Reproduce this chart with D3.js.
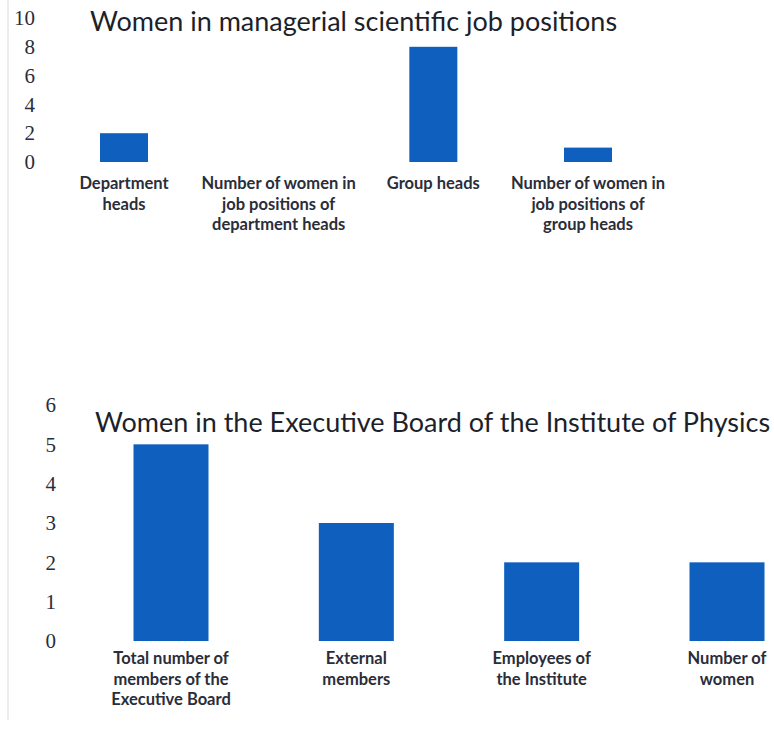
<!DOCTYPE html>
<html>
<head>
<meta charset="utf-8">
<script src="https://cdn.jsdelivr.net/npm/d3@7"></script>
<style>
  body { margin: 0; background: #fff; }
</style>
</head>
<body>
<div id="chart"></div>
<script>
// Top chart data
const mgmtTitle = "Women in managerial scientific job positions";
const mgmtCategories = [
  ["Department", "heads"],
  ["Number of women in", "job positions of", "department heads"],
  ["Group heads"],
  ["Number of women in", "job positions of", "group heads"]
];
const mgmtValues = [2, 0, 8, 1];
const mgmtTicks = [0, 2, 4, 6, 8, 10];

// Bottom chart data
const boardTitle = "Women in the Executive Board of the Institute of Physics";
const boardCategories = [
  ["Total number of", "members of the", "Executive Board"],
  ["External", "members"],
  ["Employees of", "the Institute"],
  ["Number of", "women"]
];
const boardValues = [5, 3, 2, 2];
const boardTicks = [0, 1, 2, 3, 4, 5, 6];

const width = 774;
const height = 745;
const barColor = "#0f5fbf";
const textColor = "#2a2d3a";

const svg = d3.select("#chart")
  .append("svg")
  .attr("width", width)
  .attr("height", height);

// faint scan edge on the left
svg.append("line")
  .attr("x1", 8).attr("x2", 8)
  .attr("y1", 0).attr("y2", 720)
  .attr("stroke", "#e6e6e6")
  .attr("stroke-width", 1.5);

function barChart(opts) {
  const g = svg.append("g");
  const rows = opts.categories.map((c, i) => ({ i, lines: c, v: opts.values[i] }));

  const x = d3.scalePoint().domain(rows.map(d => d.i)).range(opts.xRange);
  const y = d3.scaleLinear()
    .domain([0, d3.max(opts.ticks)])
    .range(opts.yRange);

  // Y-axis, labels only
  g.append("g")
    .attr("transform", `translate(${opts.axisX},0)`)
    .call(d3.axisLeft(y).tickValues(opts.ticks).tickFormat(d3.format("d")).tickSize(0).tickPadding(2))
    .call(ax => ax.select(".domain").remove())
    .call(ax => ax.selectAll("text")
      .attr("fill", textColor)
      .style("font-family", "'Liberation Serif', serif")
      .style("font-size", "21px"));

  // Title
  g.append("text")
    .attr("x", opts.titleX)
    .attr("y", opts.titleY)
    .attr("fill", "#1d1f2a")
    .style("font-family", "Lato, sans-serif")
    .style("font-size", opts.titleSize + "px")
    .text(opts.title);

  // Bars (zero values draw nothing)
  g.selectAll(".bar")
    .data(rows.filter(d => d.v > 0))
    .join("rect")
    .attr("class", "bar")
    .attr("x", d => x(d.i) - opts.barWidth / 2)
    .attr("y", d => y(d.v))
    .attr("width", opts.barWidth)
    .attr("height", d => y(0) - y(d.v))
    .attr("fill", barColor);

  // Category labels
  const labels = g.selectAll(".cat")
    .data(rows)
    .join("text")
    .attr("class", "cat")
    .attr("text-anchor", "middle")
    .attr("fill", textColor)
    .style("font-family", "Lato, sans-serif")
    .style("font-weight", "bold")
    .style("font-size", "16.5px");

  labels.selectAll("tspan")
    .data(d => d.lines.map(line => ({ line, i: d.i })))
    .join("tspan")
    .attr("x", d => x(d.i))
    .attr("y", (d, j) => opts.labelY + j * opts.lineGap)
    .text(d => d.line);
}

barChart({
  title: mgmtTitle,
  categories: mgmtCategories,
  values: mgmtValues,
  ticks: mgmtTicks,
  xRange: [124, 588],
  yRange: [162, 18],
  axisX: 37,
  barWidth: 48,
  titleX: 90,
  titleY: 31,
  titleSize: 27,
  labelY: 189,
  lineGap: 20.5
});

barChart({
  title: boardTitle,
  categories: boardCategories,
  values: boardValues,
  ticks: boardTicks,
  xRange: [171, 727],
  yRange: [641, 405],
  axisX: 58,
  barWidth: 75,
  titleX: 95,
  titleY: 432,
  titleSize: 27,
  labelY: 664,
  lineGap: 20.5
});
</script>
</body>
</html>
